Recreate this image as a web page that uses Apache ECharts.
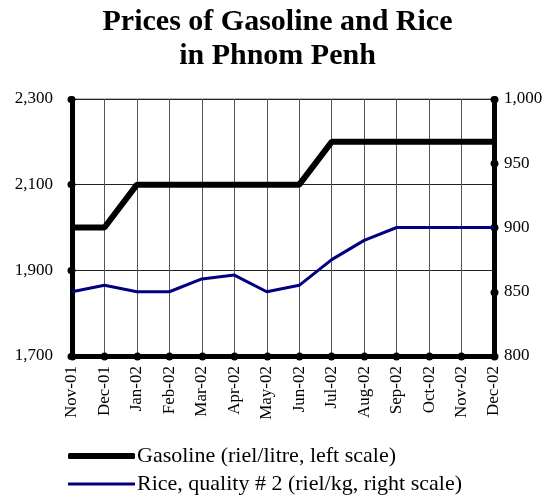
<!DOCTYPE html>
<html>
<head>
<meta charset="utf-8">
<script src="https://cdn.jsdelivr.net/npm/echarts@6/dist/echarts.min.js"></script>
<style>
    html, body { margin: 0; padding: 0; background: #fff; }
    #chart { width: 555px; height: 498px; }
</style>
</head>
<body>
<div id="chart"></div>
<script>
    // months along the bottom
    var months = ['Nov-01', 'Dec-01', 'Jan-02', 'Feb-02', 'Mar-02', 'Apr-02', 'May-02',
        'Jun-02', 'Jul-02', 'Aug-02', 'Sep-02', 'Oct-02', 'Nov-02', 'Dec-02'];
    // riel per litre, left scale
    var gasoline = [2000, 2000, 2100, 2100, 2100, 2100, 2100, 2100, 2200, 2200, 2200, 2200, 2200, 2200];
    // riel per kg, right scale
    var rice = [850, 855, 850, 850, 860, 863, 850, 855, 875, 890, 900, 900, 900, 900];

    var gasName = 'Gasoline (riel/litre, left scale)';
    var riceName = 'Rice, quality # 2 (riel/kg, right scale)';
    var serif = '"Liberation Serif", "Times New Roman", serif';

    function comma(v) {
        return String(v).replace(/\B(?=(\d{3})+(?!\d))/g, ',');
    }

    var chart = echarts.init(document.getElementById('chart'));
    chart.setOption({
        animation: false,
        title: {
            text: 'Prices of Gasoline and Rice\nin Phnom Penh',
            left: 'center',
            top: 0,
            textStyle: {
                fontFamily: serif,
                fontWeight: 'bold',
                fontSize: 30,
                lineHeight: 34,
                color: '#000'
            }
        },
        legend: [
            {
                data: [gasName],
                left: 63,
                top: 440,
                icon: 'roundRect',
                itemWidth: 67,
                itemHeight: 6,
                textStyle: { fontFamily: serif, fontSize: 22, color: '#000', padding: [0, 0, 0, -3] }
            },
            {
                data: [riceName],
                left: 63,
                top: 468,
                icon: 'rect',
                itemWidth: 67,
                itemHeight: 3,
                textStyle: { fontFamily: serif, fontSize: 22, color: '#000', padding: [0, 0, 0, -3] }
            }
        ],
        grid: {
            left: 72,
            right: 61,
            top: 99,
            bottom: 142,
            show: true,
            borderColor: '#777',
            borderWidth: 1
        },
        xAxis: {
            type: 'category',
            data: months,
            boundaryGap: false,
            axisLine: { lineStyle: { color: '#000', width: 5 } },
            axisTick: { show: true, length: 1, lineStyle: { color: '#000', width: 7, cap: 'round' } },
            axisLabel: {
                rotate: 90,
                interval: 0,
                margin: 10,
                fontFamily: serif,
                fontSize: 17,
                color: '#000'
            },
            splitLine: { show: true, lineStyle: { color: '#555', width: 1 } }
        },
        yAxis: [
            {
                type: 'value',
                min: 1700,
                max: 2300,
                interval: 200,
                axisLine: { show: true, lineStyle: { color: '#000', width: 5 } },
                axisTick: { show: true, length: 1, lineStyle: { color: '#000', width: 7, cap: 'round' } },
                axisLabel: {
                    margin: 19,
                    fontFamily: serif,
                    fontSize: 17,
                    color: '#000',
                    formatter: comma
                },
                splitLine: { show: true, lineStyle: { color: '#222', width: 1 } }
            },
            {
                type: 'value',
                min: 800,
                max: 1000,
                interval: 50,
                axisLine: { show: true, lineStyle: { color: '#000', width: 5 } },
                axisTick: { show: true, length: 1, lineStyle: { color: '#000', width: 7, cap: 'round' } },
                axisLabel: {
                    margin: 10,
                    fontFamily: serif,
                    fontSize: 17,
                    color: '#000',
                    formatter: comma
                },
                splitLine: { show: false }
            }
        ],
        series: [
            {
                name: gasName,
                type: 'line',
                yAxisIndex: 0,
                data: gasoline,
                symbol: 'none',
                itemStyle: { color: '#000' },
                lineStyle: { color: '#000', width: 6 }
            },
            {
                name: riceName,
                type: 'line',
                yAxisIndex: 1,
                data: rice,
                symbol: 'none',
                itemStyle: { color: '#000080' },
                lineStyle: { color: '#000080', width: 3 }
            }
        ]
    });
</script>
</body>
</html>
